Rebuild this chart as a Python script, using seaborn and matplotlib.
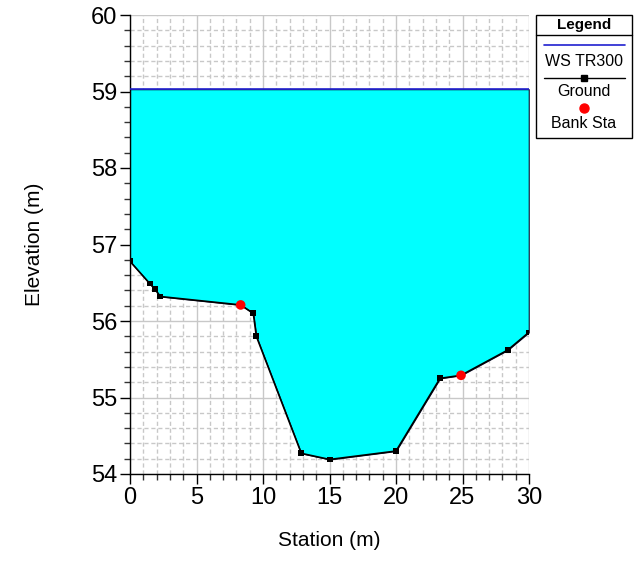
import matplotlib
matplotlib.use("Agg")
import matplotlib.pyplot as plt
from matplotlib.lines import Line2D
from matplotlib.patches import Rectangle
from matplotlib.ticker import MultipleLocator
import numpy as np
import pandas as pd
import seaborn as sns

# Cross-section survey (station, elevation); bank stations lie on the profile
ground_station = [0.0, 1.48, 1.86, 2.28, 8.32, 9.27, 9.50, 12.88, 15.01, 20.0, 23.31, 24.89, 28.4, 29.98]
ground_elev = [56.78, 56.49, 56.42, 56.32, 56.21, 56.10, 55.80, 54.27, 54.19, 54.30, 55.25, 55.29, 55.62, 55.85]
survey_point = [True, True, True, True, False, True, True, True, True, True, True, False, True, True]
bank_station = [8.32, 24.89]
bank_elev = [56.21, 55.29]
ws_elev = 59.03
x_ticks = [0, 5, 10, 15, 20, 25, 30]
y_ticks = [54, 55, 56, 57, 58, 59, 60]

sns.set_theme(style="white")
plt.rcParams["font.family"] = ["Liberation Sans", "DejaVu Sans"]
plt.rcParams["text.color"] = "black"
plt.rcParams["axes.labelcolor"] = "black"
plt.rcParams["xtick.color"] = "black"
plt.rcParams["ytick.color"] = "black"

fig = plt.figure(figsize=(6.38, 5.65), dpi=100)
ax = fig.add_axes([130 / 638, 1 - 474 / 565, 399 / 638, 459 / 565])

ground = pd.DataFrame({"Station": ground_station, "Elevation": ground_elev})
points = ground[survey_point]
banks = pd.DataFrame({"Station": bank_station, "Elevation": bank_elev})

# Water area between ground profile and water surface
gx = np.array(ground_station)
gy = np.array(ground_elev)
ax.fill_between(gx, gy, ws_elev, color="#00ffff", edgecolor="#101030",
                linewidth=0.8, zorder=2)
ax.plot([gx[0], gx[-1]], [ws_elev, ws_elev], color="#2020d0", lw=1.2, zorder=3)

sns.lineplot(data=ground, x="Station", y="Elevation", sort=False, ax=ax,
             color="black", lw=1.2, zorder=4)
sns.scatterplot(data=points, x="Station", y="Elevation", ax=ax, color="black",
                marker="s", s=18, edgecolor="none", zorder=5)
sns.scatterplot(data=banks, x="Station", y="Elevation", ax=ax, color="red",
                s=48, edgecolor="none", zorder=6)

ax.set_xlim(0, 30)
ax.set_ylim(54, 60)
ax.set_xticks(x_ticks)
ax.set_yticks(y_ticks)
ax.xaxis.set_minor_locator(MultipleLocator(1))
ax.yaxis.set_minor_locator(MultipleLocator(0.2))
ax.grid(which="major", color="#c8c8c8", lw=1.0, ls="-", zorder=0)
ax.grid(which="minor", color="#c8c8c8", lw=1.0, ls=(0, (3, 2)), zorder=0)
ax.set_axisbelow(True)
for side in ("top", "right"):
    ax.spines[side].set_visible(False)
for side in ("left", "bottom"):
    ax.spines[side].set_color("black")
    ax.spines[side].set_linewidth(1.0)
ax.tick_params(which="major", direction="out", length=7, width=1,
               color="black", labelsize=17, labelcolor="black", pad=2,
               bottom=True, left=True)
ax.tick_params(which="minor", direction="out", length=4.5, width=1,
               color="#333333", bottom=True, left=True)
ax.set_xlabel("Station (m)", fontsize=15, labelpad=16)
ax.set_ylabel("Elevation (m)", fontsize=15, labelpad=34)

# Legend panel
W, H = 638, 565
def fx(px):
    return px / W
def fy(py):
    return 1 - py / H

fig.patches.append(Rectangle((fx(536), fy(138)), fx(632) - fx(536), fy(15) - fy(138),
                             transform=fig.transFigure, fill=False,
                             edgecolor="black", lw=1.0))
fig.lines.append(Line2D([fx(536), fx(632)], [fy(35), fy(35)],
                        transform=fig.transFigure, color="black", lw=1.0))
fig.text(fx(584), fy(25), "Legend", ha="center", va="center",
         fontsize=11, fontweight="bold")
fig.lines.append(Line2D([fx(544), fx(625)], [fy(45), fy(45)],
                        transform=fig.transFigure, color="#2020d0", lw=1.2))
fig.text(fx(584), fy(62), "WS TR300", ha="center", va="center", fontsize=11.5)
fig.lines.append(Line2D([fx(544), fx(625)], [fy(78), fy(78)],
                        transform=fig.transFigure, color="black", lw=1.0))
fig.lines.append(Line2D([fx(584)], [fy(78)], transform=fig.transFigure,
                        color="black", marker="s", markersize=4, lw=0))
fig.text(fx(584), fy(92), "Ground", ha="center", va="center", fontsize=11.5)
fig.lines.append(Line2D([fx(584)], [fy(108)], transform=fig.transFigure,
                        color="red", marker="o", markersize=6.5, lw=0))
fig.text(fx(584), fy(123), "Bank Sta", ha="center", va="center", fontsize=11.5)

fig.savefig("out.png", dpi=100)
